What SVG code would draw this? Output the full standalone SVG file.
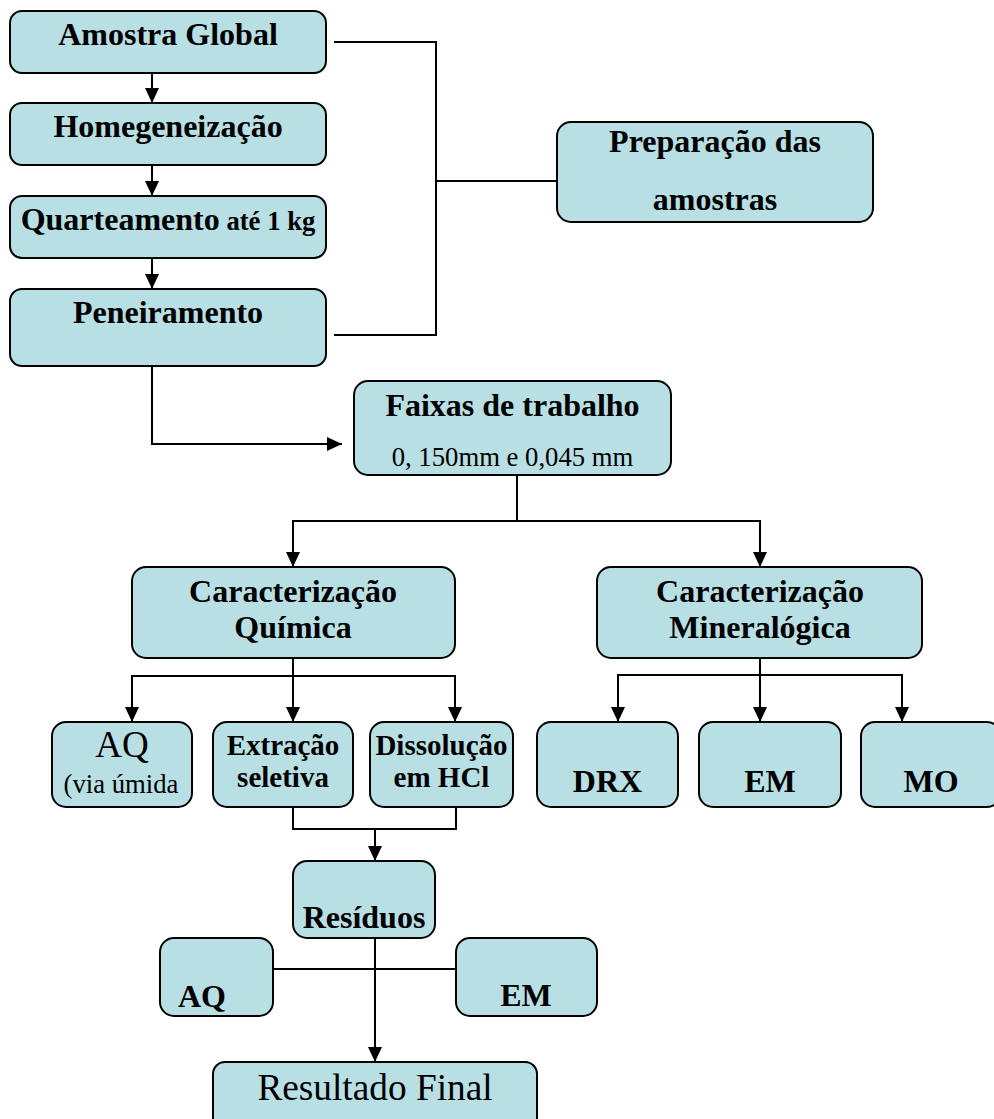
<svg xmlns="http://www.w3.org/2000/svg" width="994" height="1119" viewBox="0 0 994 1119">
<defs>
<marker id="ah" markerUnits="userSpaceOnUse" markerWidth="16" markerHeight="14" refX="15" refY="7" orient="auto">
<path d="M0,0 L15,7 L0,14 z" fill="#000"/>
</marker>
<style>
.box{fill:#B8DFE3;stroke:#000;stroke-width:2}
.ln{fill:none;stroke:#000;stroke-width:2}
.ar{fill:none;stroke:#000;stroke-width:2;marker-end:url(#ah)}
.t{font-family:"Liberation Serif","Times New Roman",serif;fill:#000;text-anchor:middle}
.b{font-weight:bold;font-size:32px}
.r{font-size:26.7px}
</style>
</defs>
<rect width="994" height="1119" fill="#fff"/>
<g id="connectors">
<line class="ar" x1="152" y1="73" x2="152" y2="103"/>
<line class="ar" x1="152" y1="165" x2="152" y2="196"/>
<line class="ar" x1="152" y1="258" x2="152" y2="289"/>
<polyline class="ar" points="152,366 152,444 342,444"/>
<polyline class="ln" points="334,42 437,42"/>
<polyline class="ln" points="436,42 436,335"/>
<polyline class="ln" points="334,335 437,335"/>
<polyline class="ln" points="436,181 557,181"/>
<polyline class="ln" points="517,475 517,521"/>
<polyline class="ln" points="292,521 761,521"/>
<line class="ar" x1="293" y1="521" x2="293" y2="567"/>
<line class="ar" x1="760" y1="521" x2="760" y2="567"/>
<polyline class="ln" points="293,658 293,676"/>
<polyline class="ln" points="131,676 456,676"/>
<line class="ar" x1="132" y1="676" x2="132" y2="722"/>
<line class="ar" x1="293" y1="676" x2="293" y2="722"/>
<line class="ar" x1="455" y1="676" x2="455" y2="722"/>
<polyline class="ln" points="760,658 760,675"/>
<polyline class="ln" points="617,675 903,675"/>
<line class="ar" x1="618" y1="675" x2="618" y2="722"/>
<line class="ar" x1="760" y1="675" x2="760" y2="722"/>
<line class="ar" x1="902" y1="675" x2="902" y2="722"/>
<polyline class="ln" points="293,807 293,829 456,829 456,807"/>
<line class="ar" x1="375" y1="829" x2="375" y2="861"/>
<polyline class="ln" points="273,969 456,969"/>
<line class="ar" x1="375" y1="938" x2="375" y2="1062"/>
</g>
<g id="n-amostra"><rect class="box" x="10" y="11" width="316" height="62" rx="12"/><text class="t b" x="168" y="45">Amostra Global</text></g>
<g id="n-homog"><rect class="box" x="10" y="103" width="316" height="62" rx="12"/><text class="t b" x="168" y="137">Homegeneização</text></g>
<g id="n-quarteamento"><rect class="box" x="10" y="196" width="316" height="62" rx="12"/><text class="t b" x="168" y="230">Quarteamento<tspan font-size="26.7px"> até 1 kg</tspan></text></g>
<g id="n-peneiramento"><rect class="box" x="10" y="289" width="316" height="77" rx="12"/><text class="t b" x="168" y="323">Peneiramento</text></g>
<g id="n-preparacao"><rect class="box" x="557" y="122" width="316" height="100" rx="14"/><text class="t b" x="715" y="152">Preparação das</text><text class="t b" x="715" y="210">amostras</text></g>
<g id="n-faixas"><rect class="box" x="354" y="381" width="317" height="94" rx="14"/><text class="t b" x="512.5" y="416">Faixas de trabalho</text><text class="t r" x="512.5" y="466">0, 150mm e 0,045 mm</text></g>
<g id="n-quimica"><rect class="box" x="132" y="567" width="323" height="91" rx="14"/><text class="t b" x="293" y="602">Caracterização</text><text class="t b" x="293" y="638">Química</text></g>
<g id="n-mineralogica"><rect class="box" x="597" y="567" width="325" height="91" rx="14"/><text class="t b" x="760" y="602">Caracterização</text><text class="t b" x="760" y="638">Mineralógica</text></g>
<g id="n-aq1"><rect class="box" x="52" y="722" width="140" height="85" rx="14"/><text class="t" font-size="37px" x="122" y="757">AQ</text><text class="t r" x="121" y="793">(via úmida</text></g>
<g id="n-extracao"><rect class="box" x="213" y="722" width="140" height="85" rx="14"/><text class="t" font-weight="bold" font-size="29px" x="283" y="755">Extração</text><text class="t" font-weight="bold" font-size="29px" x="283" y="787">seletiva</text></g>
<g id="n-dissolucao"><rect class="box" x="370" y="722" width="143" height="85" rx="14"/><text class="t" font-weight="bold" font-size="29px" x="441.5" y="755">Dissolução</text><text class="t" font-weight="bold" font-size="29px" x="441.5" y="787">em HCl</text></g>
<g id="n-drx"><rect class="box" x="537" y="722" width="141" height="85" rx="14"/><text class="t b" x="607.5" y="792">DRX</text></g>
<g id="n-em1"><rect class="box" x="699" y="722" width="142" height="85" rx="14"/><text class="t b" x="770" y="792">EM</text></g>
<g id="n-mo"><rect class="box" x="861" y="722" width="140" height="85" rx="14"/><text class="t b" x="931" y="792">MO</text></g>
<g id="n-residuos"><rect class="box" x="293" y="861" width="142" height="77" rx="14"/><text class="t b" x="364" y="928">Resíduos</text></g>
<g id="n-aq2"><rect class="box" x="160" y="938" width="113" height="78" rx="14"/><text class="t b" x="202" y="1007">AQ</text></g>
<g id="n-em2"><rect class="box" x="456" y="938" width="141" height="78" rx="14"/><text class="t b" x="526" y="1006">EM</text></g>
<g id="n-resultado"><rect class="box" x="213" y="1062" width="324" height="70" rx="12"/><text class="t" font-size="37.3px" x="375" y="1100">Resultado Final</text></g>
</svg>
